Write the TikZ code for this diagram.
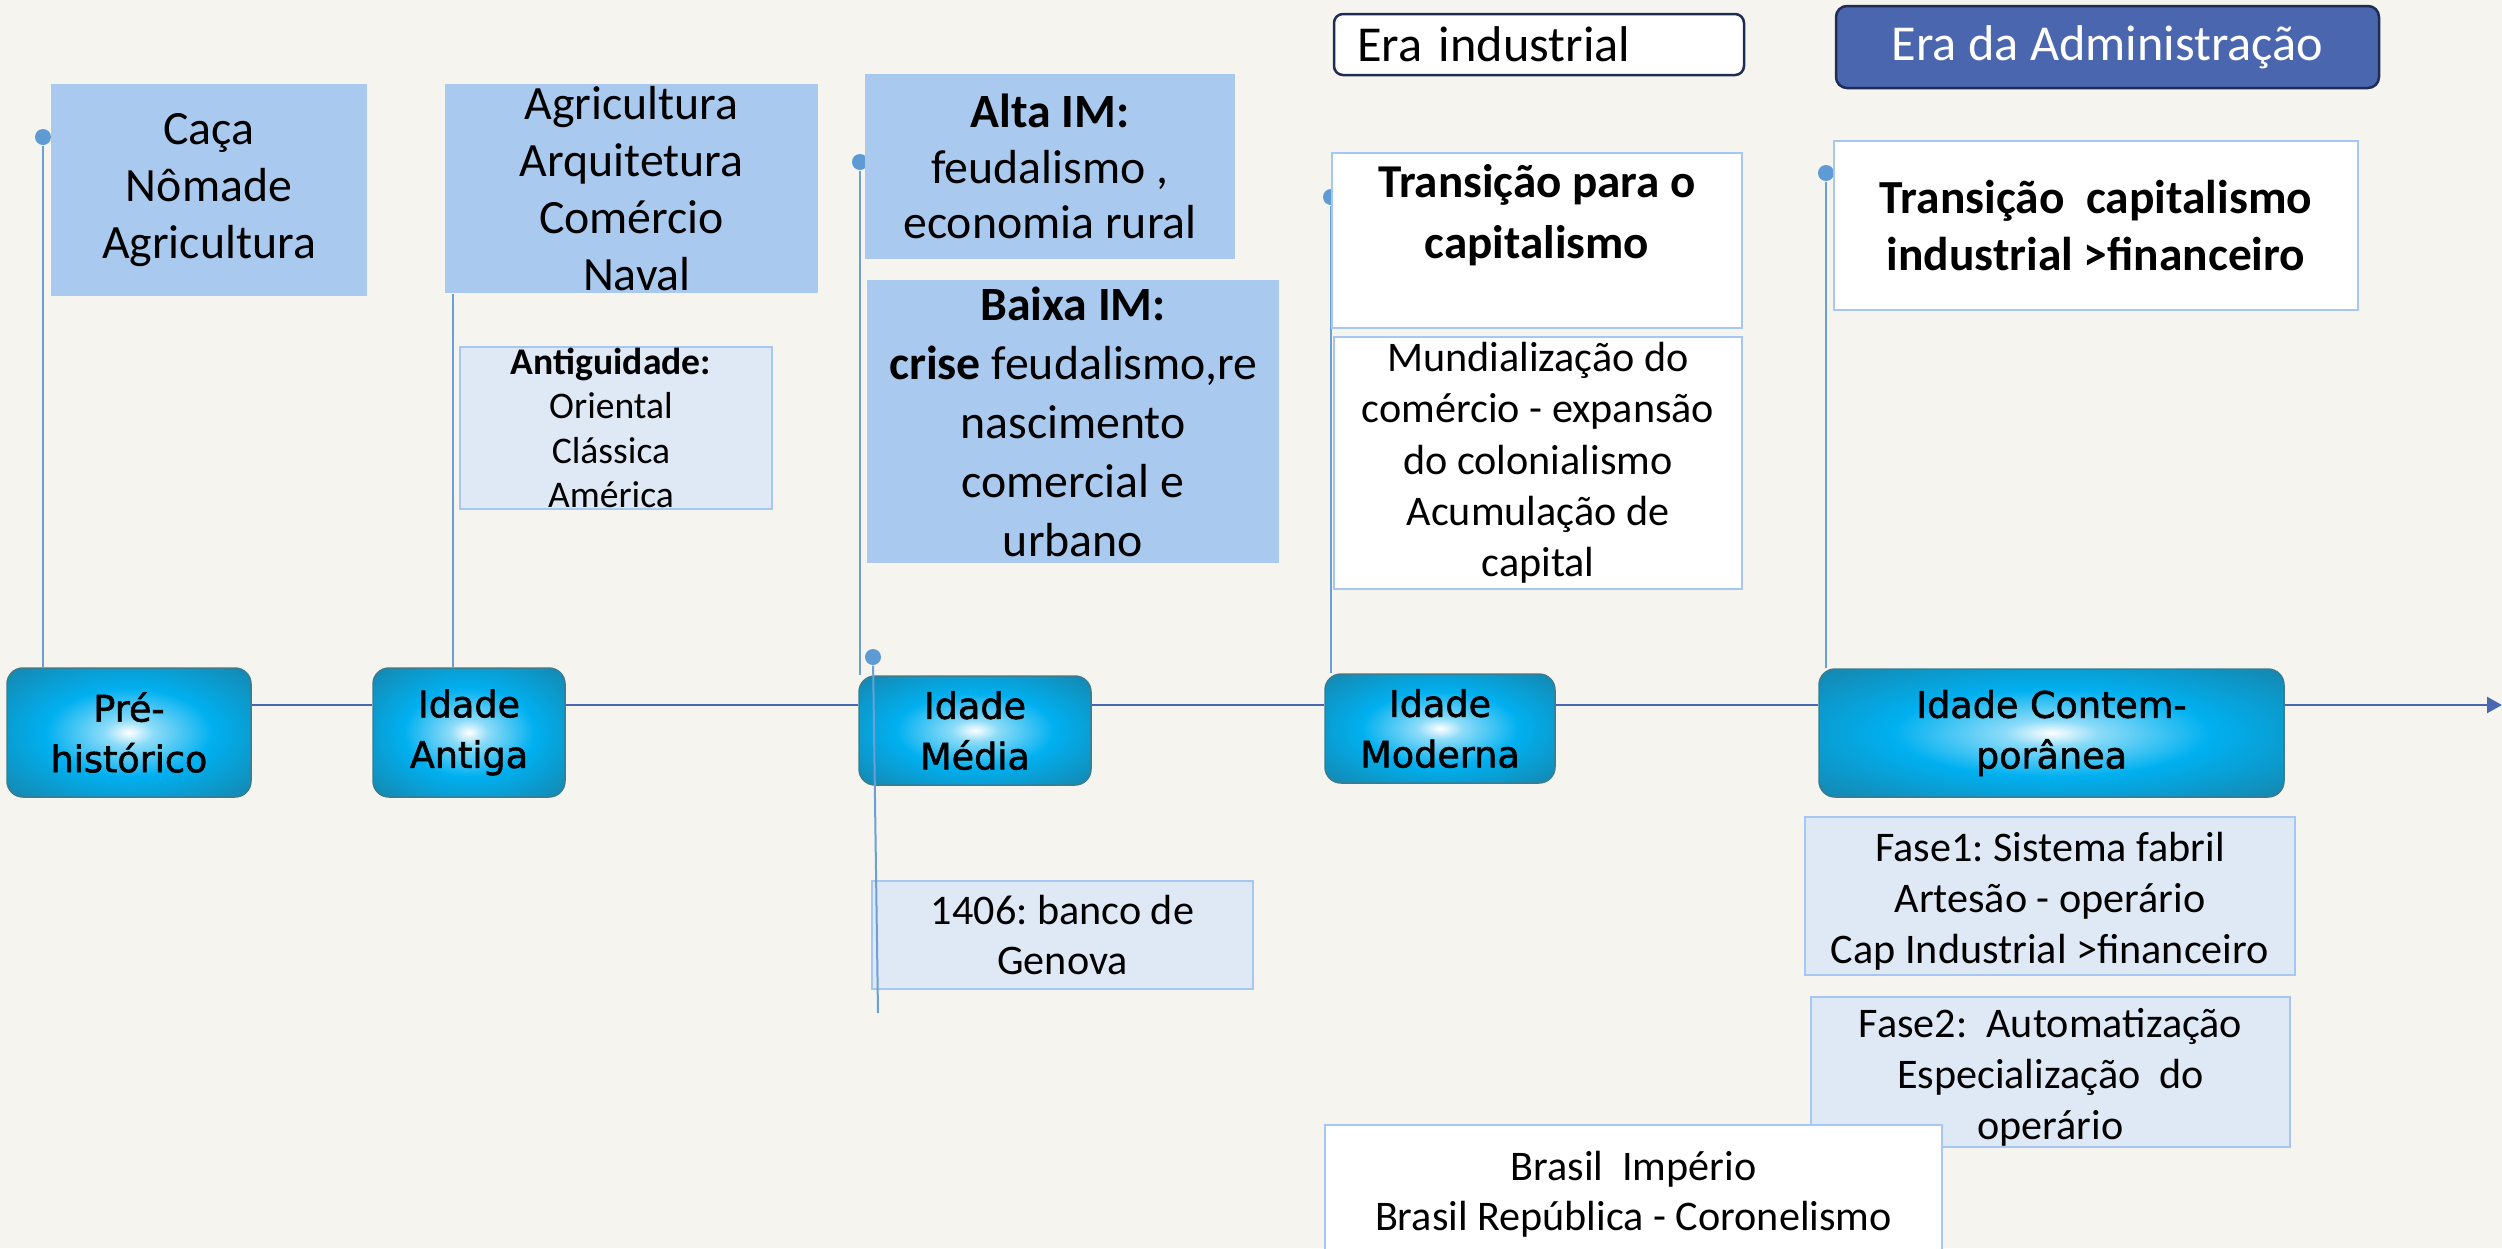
\documentclass[tikz,border=0pt]{standalone}
\usepackage{fontspec}
\setmainfont{Carlito}
\newfontfamily\eraface[FakeBold=1.6]{DejaVu Sans}
\usepackage{xcolor}
\usetikzlibrary{positioning,arrows.meta}

\definecolor{bgcream}{HTML}{F5F4EF}
\definecolor{topfill}{HTML}{A9CAEE}
\definecolor{palefill}{HTML}{DFE9F5}
\definecolor{paleline}{HTML}{A6C6F4}
\definecolor{tlblue}{HTML}{4A68B2}
\definecolor{stemblue}{HTML}{6A9FD8}
\definecolor{dotblue}{HTML}{5E9AD3}
\definecolor{adminfill}{HTML}{4A66AE}
\definecolor{navyline}{HTML}{1F2D55}
\definecolor{eraedge}{HTML}{3B7C8E}
\definecolor{glowcyan}{HTML}{00B0F0}
\definecolor{glowdark}{HTML}{2A5F70}
\colorlet{glowlight}{white!55!glowcyan}
\colorlet{glowmid}{glowcyan!55!glowdark}

\pgfdeclareradialshading{eraglow}{\pgfpoint{0bp}{0bp}}{%
  color(0bp)=(white); color(5bp)=(glowlight); color(17bp)=(glowcyan);
  color(33bp)=(glowmid); color(50bp)=(glowdark)}

\begin{document}
\frenchspacing
\begin{tikzpicture}[
  x=0.1mm, y=-0.1mm,
  era/.style={draw=eraedge, line width=0.15mm, rounded corners=1.6mm, shading=eraglow,
              align=center, inner sep=0pt, font=\eraface\fontsize{10.4}{14.4}\selectfont},
  topbox/.style={fill=topfill, inner sep=0pt, align=center,
                 font=\fontsize{13.6}{16.3}\selectfont},
  palebox/.style={fill=palefill, draw=paleline, line width=0.2mm, inner sep=0pt,
                  align=center, font=\fontsize{12}{14.5}\selectfont},
  whitebox/.style={fill=white, draw=paleline, line width=0.2mm, inner sep=0pt,
                   align=center, font=\fontsize{12}{14.6}\selectfont},
  tag/.style={draw=navyline, line width=0.25mm, rounded corners=0.9mm, inner sep=0pt,
              font=\fontsize{14.3}{17}\selectfont},
  txt/.style={inner sep=0pt, align=center},
  stem/.style={draw=stemblue, line width=0.2mm},
  dot/.style={circle, fill=dotblue, inner sep=0pt, minimum size=1.6mm},
  timeline/.style={draw=tlblue, line width=0.25mm}
]
\useasboundingbox (0,0) rectangle (2502,1248);
\clip (0,0) rectangle (2502,1248);
\fill[bgcream] (0,0) rectangle (2502,1248);

% the ages
\node[era, minimum width=24.4mm, minimum height=12.9mm] (pre) at (129,732.5) {Pré-\\histórico};
\node[era, minimum width=19.2mm, minimum height=12.9mm] (antiga) at (469,732.5) {Idade\\Antiga};
\node[era, minimum width=23.2mm, minimum height=10.9mm] (media) at (975,730.5) {Idade\\Média};
\node[era, minimum width=23mm, minimum height=10.9mm] (moderna) at (1440,728.5) {Idade\\Moderna};
\node[era, minimum width=46.5mm, minimum height=12.8mm] (contemp) at (2051.5,733) {Idade Contem-\\porânea};

% stems up to the notes
\node[dot] (dpre) at (43,137) {};
\node[dot] (dmed) at (860,162) {};
\node[dot] (dmod) at (1331,197) {};
\node[dot] (dcon) at (1826,173) {};
\coordinate (sant) at (453,294);
\draw[stem] (dpre) -- (dpre |- pre.north);
\draw[stem] (sant) -- (sant |- antiga.north);
\draw[stem] (dmed) -- (dmed |- media.north);
\draw[stem] (dmod) -- (dmod |- moderna.north);
\draw[stem] (dcon) -- (dcon |- contemp.north);

% time axis
\coordinate (tl) at (0,705);
\coordinate (tlend) at (2502,705);
\draw[timeline] (pre.east |- tl) -- (antiga.west |- tl);
\draw[timeline] (antiga.east |- tl) -- (media.west |- tl);
\draw[timeline] (media.east |- tl) -- (moderna.west |- tl);
\draw[timeline] (moderna.east |- tl) -- (contemp.west |- tl);
\draw[timeline, -{Triangle[length=1.5mm,width=1.6mm]}] (contemp.east |- tl) -- (tlend);

% notes above the axis
\node[topbox, minimum width=31.6mm, minimum height=21.2mm] (caca) at (209,190) {Caça\\Nômade\\Agricultura};
\node[topbox, minimum width=37.3mm, minimum height=20.9mm] (agri) at (631.5,188.5) {};
\node[txt, font=\fontsize{13.6}{16.3}\selectfont] (agritxt) at (agri.center) {Agricultura\\Arquitetura\\Comércio\\\ Naval};
\node[palebox, minimum width=31.2mm, minimum height=16.2mm] (antbox) at (616,428) {};
\node[txt, font=\fontsize{10.7}{12.6}\selectfont] (anttxt) at ([xshift=-0.5mm]antbox.center) {\textbf{Antiguidade:}\\Oriental\\Clássica\\América};
\node[topbox, minimum width=37mm, minimum height=18.5mm, font=\fontsize{13.6}{15.7}\selectfont] (alta) at (1050,166.5) {\textbf{Alta IM:}\\feudalismo ,\\economia rural};
\node[topbox, minimum width=41.2mm, minimum height=28.3mm] (baixa) at (1073,421.5) {};
\node[txt, font=\fontsize{13.6}{16.8}\selectfont] (baixatxt) at (baixa.center) {\textbf{Baixa IM:}\\\textbf{crise} feudalismo,re\\nascimento\\comercial e\\urbano};

\node[tag, fill=white, text width=36.4mm, inner xsep=2.3mm, minimum height=6.1mm, align=left] (eraind) at (1539,44.5) {Era industrial};
\node[tag, fill=adminfill, text=white, minimum width=54.3mm, minimum height=8.2mm, rounded corners=1.1mm] (eraadm) at (2107.5,47) {Era da Administração};

\node[whitebox, minimum width=41mm, minimum height=17.5mm] (transmod) at (1537,240) {};
\node[txt, anchor=north, font=\bfseries\fontsize{13.4}{17.3}\selectfont] (transmodtxt) at ([yshift=-1.2mm]transmod.north) {Transição para o\\capitalismo};
\node[whitebox, minimum width=40.8mm, minimum height=25.2mm] (mundial) at (1538,463) {Mundialização do\\comércio - expansão\\do colonialismo\\Acumulação de\\capital};
\node[whitebox, minimum width=52.4mm, minimum height=16.9mm, font=\bfseries\fontsize{13.5}{16.3}\selectfont] (transcon) at (2096,225.5) {Transição\ \ capitalismo\\industrial >financeiro};

% notes below the axis
\node[palebox, minimum width=38.1mm, minimum height=10.8mm] (genova) at (1062.5,935) {1406: banco de\\Genova};
\node[palebox, minimum width=49mm, minimum height=15.8mm] (fase1) at (2050,896) {};
\node[txt, font=\fontsize{12}{14.5}\selectfont] (fase1txt) at ([yshift=-0.5mm]fase1.center) {Fase1: Sistema fabril\\Artesão - operário\\Cap Industrial >financeiro};
\node[palebox, minimum width=47.9mm, minimum height=15mm] (fase2) at (2050.5,1072) {};
\node[txt, font=\fontsize{12}{14.5}\selectfont] (fase2txt) at ([yshift=-0.5mm]fase2.center) {Fase2:\ \ Automatização\\Especialização\ \ do\\operário};
\node[whitebox, minimum width=61.7mm, minimum height=13mm] (brasil) at (1633.5,1190) {};
\node[txt, font=\fontsize{12}{14.2}\selectfont] (brasiltxt) at ([yshift=-0.4mm]brasil.center) {Brasil\ \ Império\\Brasil República - Coronelismo};

% stem through Idade Media
\node[dot] (dgen) at (873,657) {};
\coordinate (sgen) at (878,1013);
\draw[stem] (dgen) -- (sgen);
\end{tikzpicture}
\end{document}
